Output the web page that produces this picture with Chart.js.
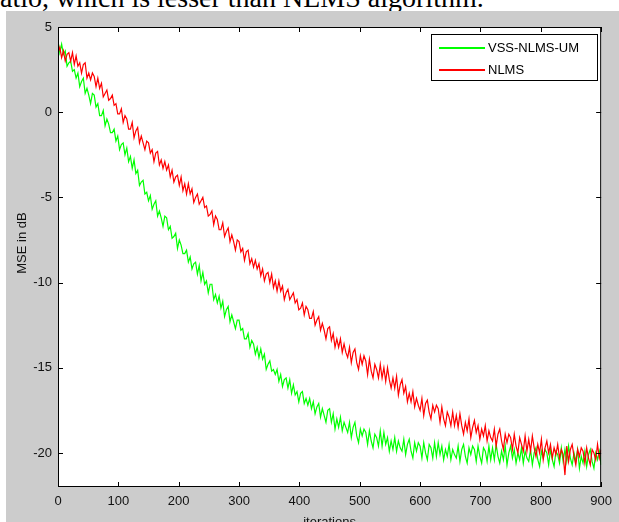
<!DOCTYPE html>
<html>
<head>
<meta charset="utf-8">
<script src="https://cdn.jsdelivr.net/npm/chart.js@4/dist/chart.umd.min.js"></script>
<style>
  html, body { margin: 0; padding: 0; background: #fff; overflow: hidden; width: 619px; height: 522px; }
  #caption {
    position: absolute; left: 0; top: -16px; margin: 0;
    font-family: "Liberation Serif", "Times New Roman", serif; font-size: 28px; line-height: 28px;
    color: #000; white-space: nowrap;
  }
  #figure { position: absolute; left: 6px; top: 11px; width: 613px; height: 530px; background: #cccccc; }
</style>
</head>
<body>
<p id="caption">atio, which is lesser than NLMS algorithm.</p>
<div id="figure"><canvas id="myChart" width="613" height="530"></canvas></div>
<script>
// curves are sampled every 3 iterations
const iterStep = 3;

const seriesLabels = ["VSS-NLMS-UM", "NLMS"];
const seriesColors = ["#00ff00", "#ff0000"];
const yTitle = "MSE in dB";

const vssNlmsUm = [
  4.2, 3.5, 4.0, 3.4, 3.6, 2.7, 2.9, 3.0, 2.4, 2.5,
  2.0, 2.3, 1.5, 1.8, 2.0, 1.1, 1.4, 1.0, 0.5, 1.1,
  1.0, 0.3, 0.5, -0.2, -0.2, 0.1, -0.8, -0.4, -0.7, -1.2,
  -1.2, -1.0, -1.7, -1.4, -2.2, -1.9, -1.8, -2.5, -2.1, -2.9,
  -2.6, -3.3, -2.8, -3.6, -3.4, -4.3, -4.1, -4.0, -4.8, -4.7,
  -5.2, -4.9, -5.7, -5.4, -5.2, -6.1, -5.8, -6.2, -6.7, -6.1,
  -6.2, -6.9, -6.7, -7.4, -7.3, -7.1, -8.0, -7.5, -7.8, -8.3,
  -8.3, -8.1, -8.8, -8.5, -9.2, -8.9, -8.8, -9.5, -9.0, -9.9,
  -9.4, -10.1, -9.9, -10.6, -10.1, -10.1, -11.0, -10.7, -11.2, -10.8,
  -11.5, -11.1, -12.0, -11.6, -11.4, -12.3, -11.9, -12.3, -12.7, -12.2,
  -12.2, -12.8, -12.7, -13.3, -13.3, -13.0, -13.8, -13.4, -13.6, -14.2,
  -13.8, -14.4, -13.9, -14.5, -14.2, -15.1, -14.8, -14.6, -15.2, -15.1,
  -15.4, -15.1, -15.8, -15.4, -16.1, -15.7, -15.6, -16.2, -15.7, -16.5,
  -16.0, -16.6, -16.4, -17.0, -16.5, -16.4, -17.1, -16.8, -17.2, -16.8,
  -17.4, -17.0, -17.7, -17.3, -17.1, -17.9, -17.4, -17.8, -18.2, -17.5,
  -17.4, -18.2, -17.7, -18.6, -18.0, -18.5, -17.9, -18.7, -18.2, -18.5,
  -18.8, -18.2, -19.1, -18.5, -18.2, -19.0, -19.4, -18.6, -19.0, -18.6,
  -18.8, -19.5, -18.7, -19.3, -19.7, -18.9, -19.1, -19.6, -18.7, -19.6,
  -18.8, -19.5, -19.1, -19.9, -19.3, -19.8, -19.1, -19.9, -19.3, -19.7,
  -19.9, -19.2, -20.1, -19.5, -19.2, -19.9, -20.3, -19.4, -19.9, -19.4,
  -19.6, -20.3, -19.4, -20.0, -20.4, -19.5, -19.7, -20.3, -19.4, -20.2,
  -19.4, -20.1, -19.6, -20.4, -19.8, -20.2, -19.5, -20.4, -19.8, -20.1,
  -20.3, -19.6, -20.5, -19.8, -19.5, -20.2, -20.6, -19.7, -20.1, -19.6,
  -19.8, -20.5, -19.6, -20.2, -20.6, -19.7, -19.9, -20.5, -19.6, -20.4,
  -19.7, -20.4, -19.5, -20.2, -20.6, -19.9, -20.4, -19.6, -20.7, -20.0,
  -19.6, -20.3, -19.8, -20.6, -20.0, -20.4, -19.7, -20.6, -19.9, -20.3,
  -20.5, -19.8, -20.7, -20.0, -19.7, -20.4, -20.8, -19.9, -20.3, -19.8,
  -20.0, -20.7, -19.8, -20.4, -20.8, -19.9, -20.1, -20.6, -19.7, -20.5,
  -19.8, -20.5, -19.6, -20.3, -20.7, -20.0, -20.5, -19.8, -20.9, -20.2,
  -20.6, -19.9, -20.8, -20.1, -19.8, -20.5, -20.9, -20.0, -20.4, -19.9,
  -20.7
];

const nlms = [
  3.5, 3.8, 3.2, 3.6, 3.0, 3.4, 3.5, 3.0, 3.5, 2.8,
  3.3, 2.7, 2.9, 2.3, 2.8, 2.9, 2.0, 2.3, 1.9, 2.3,
  2.1, 1.5, 2.0, 1.4, 1.7, 0.9, 1.1, 1.3, 0.7, 0.8,
  1.0, 0.4, 0.5, -0.1, -0.1, 0.2, -0.6, -0.2, -0.4, -1.0,
  -1.0, -0.6, -1.5, -1.1, -0.9, -1.8, -1.4, -1.8, -2.2, -1.7,
  -1.8, -2.4, -2.2, -2.9, -2.4, -2.3, -3.1, -2.8, -3.3, -2.9,
  -3.4, -3.1, -3.8, -3.4, -4.1, -3.8, -3.7, -4.3, -3.8, -4.6,
  -4.2, -4.8, -4.2, -4.8, -4.5, -5.3, -5.0, -4.8, -5.4, -5.2,
  -5.0, -5.6, -5.5, -6.1, -6.0, -5.8, -6.6, -6.1, -6.3, -6.9,
  -6.9, -6.5, -7.3, -7.0, -6.8, -7.6, -7.2, -7.6, -8.1, -7.5,
  -7.6, -8.2, -8.0, -8.7, -8.2, -8.1, -8.9, -8.6, -9.1, -8.7,
  -9.2, -8.9, -9.6, -9.2, -9.9, -9.5, -9.4, -10.0, -9.5, -10.3,
  -9.9, -10.5, -9.9, -10.5, -10.2, -11.0, -10.6, -10.4, -11.0, -10.8,
  -10.6, -11.2, -11.0, -11.6, -11.5, -11.2, -11.9, -11.4, -11.6, -12.1,
  -12.1, -11.7, -12.5, -12.2, -12.0, -12.8, -12.4, -12.8, -13.3, -12.7,
  -12.6, -13.4, -13.0, -13.8, -13.3, -13.8, -13.3, -14.1, -13.6, -14.1,
  -14.4, -13.8, -14.7, -14.1, -13.9, -14.7, -15.1, -14.3, -14.8, -14.3,
  -14.6, -15.4, -14.5, -15.2, -15.6, -14.8, -15.1, -15.6, -14.8, -15.6,
  -15.0, -15.8, -15.0, -15.7, -16.2, -15.6, -16.2, -15.5, -16.6, -16.0,
  -15.7, -16.5, -16.1, -17.0, -16.5, -17.0, -16.4, -17.3, -16.8, -17.2,
  -17.5, -16.8, -17.8, -17.1, -16.9, -17.6, -18.0, -17.2, -17.6, -17.2,
  -17.4, -18.2, -17.3, -18.0, -18.4, -17.6, -17.9, -18.4, -17.6, -18.4,
  -17.8, -18.5, -17.7, -18.4, -18.9, -18.2, -18.7, -18.0, -19.1, -18.5,
  -18.1, -18.8, -18.4, -19.2, -18.6, -19.0, -18.4, -19.3, -18.7, -19.1,
  -19.3, -18.6, -19.6, -18.9, -18.6, -19.3, -19.8, -18.9, -19.4, -18.9,
  -19.1, -19.8, -18.9, -19.6, -20.0, -19.1, -19.5, -19.9, -19.0, -19.9,
  -19.2, -19.9, -19.0, -19.7, -20.2, -19.5, -20.0, -19.2, -20.4, -19.7,
  -19.3, -20.0, -19.5, -20.3, -19.7, -20.1, -19.5, -20.3, -19.8, -20.1,
  -21.3, -19.6, -20.5, -19.8, -19.5, -20.2, -20.7, -19.8, -20.2, -19.7,
  -19.9, -20.6, -19.7, -20.3, -20.7, -19.8, -20.0, -20.4, -19.5, -20.3,
  -19.8
];

const xTicks = [0, 100, 200, 300, 400, 500, 600, 700, 800, 900];
const yTicks = [5, 0, -5, -10, -15, -20];

const toPoints = (arr) => arr.map((v, i) => ({ x: i * iterStep, y: v }));

const fontFamily = "'Liberation Sans', Arial, sans-serif";

// matlab look: white axes, box, inward ticks, legend inside
const matlabAxes = {
  id: "matlabAxes",
  beforeDatasetsDraw(chart) {
    const { ctx, chartArea } = chart;
    ctx.save();
    ctx.fillStyle = "#fff";
    ctx.fillRect(chartArea.left, chartArea.top, chartArea.right - chartArea.left, chartArea.bottom - chartArea.top);
    ctx.restore();
  },
  afterDatasetsDraw(chart) {
    const { ctx, chartArea, scales } = chart;
    const { left, right, top, bottom } = chartArea;
    const tl = 5;
    ctx.save();
    ctx.strokeStyle = "#000";
    ctx.lineWidth = 1;
    ctx.beginPath();
    scales.x.ticks.forEach((t) => {
      const px = Math.round(scales.x.getPixelForValue(t.value)) + 0.5;
      ctx.moveTo(px, bottom);
      ctx.lineTo(px, bottom - tl);
      ctx.moveTo(px, top);
      ctx.lineTo(px, top + tl);
    });
    scales.y.ticks.forEach((t) => {
      const py = Math.round(scales.y.getPixelForValue(t.value)) + 0.5;
      ctx.moveTo(left, py);
      ctx.lineTo(left + tl, py);
      ctx.moveTo(right, py);
      ctx.lineTo(right - tl, py);
    });
    ctx.stroke();
    ctx.strokeRect(left + 0.5, top + 0.5, right - left - 1, bottom - top - 1);

    // legend box
    const bx = 425.5, by = 23.5, bw = 166, bh = 46;
    ctx.fillStyle = "#fff";
    ctx.fillRect(bx, by, bw, bh);
    ctx.strokeRect(bx, by, bw, bh);
    ctx.font = "13px " + fontFamily;
    ctx.textBaseline = "middle";
    ctx.textAlign = "left";
    for (let i = 0; i < seriesLabels.length; i++) {
      const ly = 36 + i * 22;
      ctx.fillStyle = seriesColors[i];
      ctx.fillRect(433, ly, 46, 2);
      ctx.fillStyle = "#000";
      ctx.fillText(seriesLabels[i], 482, ly + 1);
    }

    // y label, centred a bit above the axis middle like the original
    ctx.translate(16, 232);
    ctx.rotate(-Math.PI / 2);
    ctx.textAlign = "center";
    ctx.fillStyle = "#111";
    ctx.fillText(yTitle, 0, 0);
    ctx.restore();
  },
};

const ctx = document.getElementById("myChart");

new Chart(ctx, {
  type: "line",
  data: {
    datasets: [
      {
        label: seriesLabels[0],
        data: toPoints(vssNlmsUm),
        borderColor: seriesColors[0],
        borderWidth: 1.2,
        pointRadius: 0,
        order: 1,
      },
      {
        label: seriesLabels[1],
        data: toPoints(nlms),
        borderColor: seriesColors[1],
        borderWidth: 1.2,
        pointRadius: 0,
        order: 0,
      },
    ],
  },
  options: {
    responsive: false,
    animation: false,
    devicePixelRatio: 1,
    layout: { padding: { top: 16, right: 16, left: 0, bottom: 0 } },
    scales: {
      x: {
        type: "linear",
        min: 0,
        max: 900,
        afterBuildTicks: (scale) => { scale.ticks = xTicks.map((v) => ({ value: v })); },
        afterFit: (scale) => { scale.height = 54; },
        grid: { display: false, drawTicks: false },
        border: { display: false },
        ticks: { color: "#111", padding: 7, font: { family: fontFamily, size: 13 }, maxRotation: 0 },
        title: { display: true, text: "iterations", color: "#111", padding: { top: 0, bottom: 11 }, font: { family: fontFamily, size: 13 } },
      },
      y: {
        min: -22,
        max: 5,
        afterBuildTicks: (scale) => { scale.ticks = yTicks.map((v) => ({ value: v })); },
        afterFit: (scale) => { scale.width = 52; },
        grid: { display: false, drawTicks: false },
        border: { display: false },
        ticks: { color: "#111", padding: 6, font: { family: fontFamily, size: 13 } },
        title: { display: false },
      },
    },
    plugins: {
      legend: { display: false },
      tooltip: { enabled: false },
    },
  },
  plugins: [matlabAxes],
});
</script>
</body>
</html>
